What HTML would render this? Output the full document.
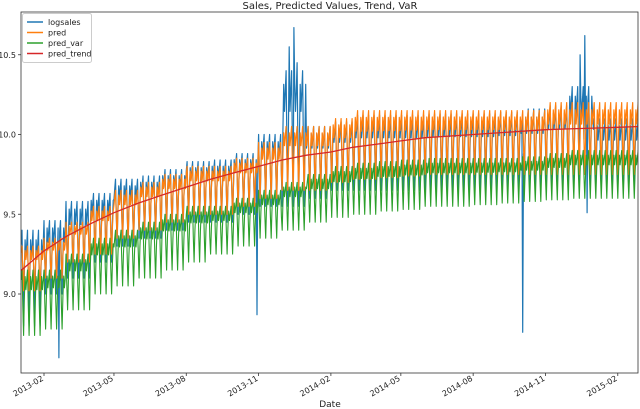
<!DOCTYPE html>
<html><head><meta charset="utf-8"><style>
html,body{margin:0;padding:0;background:#fff;}
svg{display:block;font-family:"DejaVu Sans","Liberation Sans",sans-serif;}
</style></head><body>
<svg id="chart" width="640" height="409" viewBox="0 0 640 409">
<text x="330" y="9" font-size="10" text-anchor="middle" fill="#222">Sales, Predicted Values, Trend, VaR</text>
<defs><clipPath id="clip"><rect x="21" y="12" width="617" height="361"/></clipPath></defs>
<g id="series" clip-path="url(#clip)"></g>
<g id="axes"></g>
<text x="330" y="407" font-size="9" text-anchor="middle" fill="#222">Date</text>
<g>
<rect x="22.5" y="13.5" width="69" height="49" fill="#fff" fill-opacity="0.85" stroke="#ccc" rx="2"/>
<line x1="27" y1="22" x2="43" y2="22" stroke="#1f77b4" stroke-width="1.5"/><text x="48" y="25" font-size="8" fill="#222">logsales</text>
<line x1="27" y1="32.5" x2="43" y2="32.5" stroke="#ff7f0e" stroke-width="1.5"/><text x="48" y="35.5" font-size="8" fill="#222">pred</text>
<line x1="27" y1="43" x2="43" y2="43" stroke="#2ca02c" stroke-width="1.5"/><text x="48" y="46" font-size="8" fill="#222">pred_var</text>
<line x1="27" y1="53.5" x2="43" y2="53.5" stroke="#d62728" stroke-width="1.5"/><text x="48" y="56.5" font-size="8" fill="#222">pred_trend</text>
</g>
</svg>
<script>
// monthly levels, Jan 2013 .. Mar 2015 (27 months)
const logHigh = [9.40,9.46,9.58,9.63,9.72,9.74,9.78,9.83,9.84,9.88,10.00,10.40,10.05,10.08,10.12,10.12,10.12,10.13,10.13,10.13,10.14,10.16,10.18,10.30,10.10,10.10,10.10];
const logLow  = [8.80,9.00,9.10,9.20,9.30,9.35,9.40,9.45,9.45,9.50,9.55,9.55,9.60,9.65,9.65,9.65,9.65,9.65,9.65,9.65,9.65,9.65,9.70,9.70,9.65,9.65,9.65];
const predHigh= [9.30,9.35,9.45,9.55,9.65,9.70,9.75,9.80,9.80,9.85,9.95,10.05,10.05,10.10,10.15,10.15,10.15,10.15,10.15,10.15,10.15,10.15,10.20,10.20,10.20,10.20,10.20];
const predLow = [9.02,9.10,9.20,9.25,9.35,9.40,9.45,9.50,9.50,9.55,9.60,9.65,9.65,9.70,9.72,9.73,9.74,9.75,9.75,9.75,9.75,9.75,9.75,9.75,9.75,9.75,9.75];
const varHigh = [9.15,9.15,9.25,9.35,9.40,9.45,9.50,9.55,9.55,9.60,9.65,9.70,9.75,9.80,9.82,9.83,9.84,9.85,9.85,9.85,9.85,9.86,9.88,9.90,9.90,9.90,9.90];
const varLow  = [8.74,8.78,8.90,9.00,9.05,9.10,9.15,9.20,9.25,9.30,9.35,9.40,9.45,9.48,9.50,9.52,9.53,9.55,9.55,9.56,9.57,9.58,9.59,9.60,9.60,9.60,9.60];
const trendVals=[9.14,9.27,9.36,9.44,9.51,9.57,9.62,9.67,9.72,9.76,9.80,9.84,9.87,9.89,9.92,9.94,9.96,9.98,9.99,10.00,10.01,10.02,10.03,10.035,10.04,10.045,10.05];
// weekly shape (fraction between low and high), by day of week
const weekProfile = [0.0,0.55,0.9,0.7,0.85,1.0,0.45];
// special logsales events
const eventDates = ["2013-02-20","2013-10-30","2013-12-10","2013-12-16","2013-12-20","2014-10-03","2014-12-15","2014-12-21","2014-12-24"];
const eventVals  = [8.60,8.87,10.55,10.67,10.45,8.76,10.50,10.62,9.51];
const yTicks = [9.0,9.5,10.0,10.5];
const yTickLabels = ["9.0","9.5","10.0","10.5"];
const xTickDates = ["2013-02-01","2013-05-01","2013-08-01","2013-11-01","2014-02-01","2014-05-01","2014-08-01","2014-11-01","2015-02-01"];
const xTickLabels = ["2013-02","2013-05","2013-08","2013-11","2014-02","2014-05","2014-08","2014-11","2015-02"];

const NS="http://www.w3.org/2000/svg";
const D0=Date.UTC(2013,1,1), DAY=86400000;
function xs(t){return 44+(t-D0)/DAY*0.786;}
function ys(v){return 294-(v-9)*159.5;}
function pd(s){const p=s.split("-");return Date.UTC(+p[0],+p[1]-1,+p[2]);}
const start=Date.UTC(2013,0,3), end=Date.UTC(2015,1,28);
const days=[];for(let t=start;t<=end;t+=DAY)days.push(t);
function series(hi,lo,ev){
  const ev_map={};if(ev)eventDates.forEach((d,i)=>ev_map[pd(d)]=eventVals[i]);
  return days.map(t=>{const d=new Date(t);const m=(d.getUTCFullYear()-2013)*12+d.getUTCMonth();
    let v=lo[m]+weekProfile[d.getUTCDay()]*(hi[m]-lo[m]);
    if(ev&&ev_map[t]!==undefined)v=ev_map[t];
    return xs(t).toFixed(1)+","+ys(v).toFixed(1);}).join(" ");
}
const sg=document.getElementById("series");
function addLine(pts,color,name,w){
  const p=document.createElementNS(NS,"polyline");
  p.setAttribute("points",pts);p.setAttribute("fill","none");p.setAttribute("stroke",color);p.setAttribute("stroke-width",w);p.setAttribute("stroke-linejoin","round");
  
  
  sg.appendChild(p);
}
addLine(series(logHigh,logLow,true),"#1f77b4","logsales-line",1.2);
addLine(series(predHigh,predLow,false),"#ff7f0e","pred-line",1.2);
addLine(series(varHigh,varLow,false),"#2ca02c","pred-var-line",1.1);
const tp=trendVals.map((v,i)=>xs(Date.UTC(2013,i,1)).toFixed(1)+","+ys(v).toFixed(1)).join(" ");
addLine(tp,"#d62728","pred-trend-line",1.3);

const ag=document.getElementById("axes");
function el(tag,attrs){const e=document.createElementNS(NS,tag);for(const k in attrs)e.setAttribute(k,attrs[k]);ag.appendChild(e);return e;}
const frame=el("rect",{x:21,y:12,width:617,height:361,fill:"none",stroke:"#333","stroke-width":0.8});


yTicks.forEach((v,i)=>{
  el("line",{x1:18,x2:21,y1:ys(v),y2:ys(v),stroke:"#333","stroke-width":0.8});
  const t=el("text",{x:16,y:ys(v)+3,"font-size":8,"text-anchor":"end",fill:"#222"});
  t.textContent=yTickLabels[i];
  
  
});
xTickDates.forEach((d,i)=>{
  const x=xs(pd(d));
  el("line",{x1:x,x2:x,y1:373,y2:376,stroke:"#333","stroke-width":0.8});
  const t=el("text",{x:x,y:380,"font-size":8,"text-anchor":"end",fill:"#222",transform:`rotate(-30 ${x} 380)`});
  t.textContent=xTickLabels[i];
  
  
});
</script>
</body></html>
